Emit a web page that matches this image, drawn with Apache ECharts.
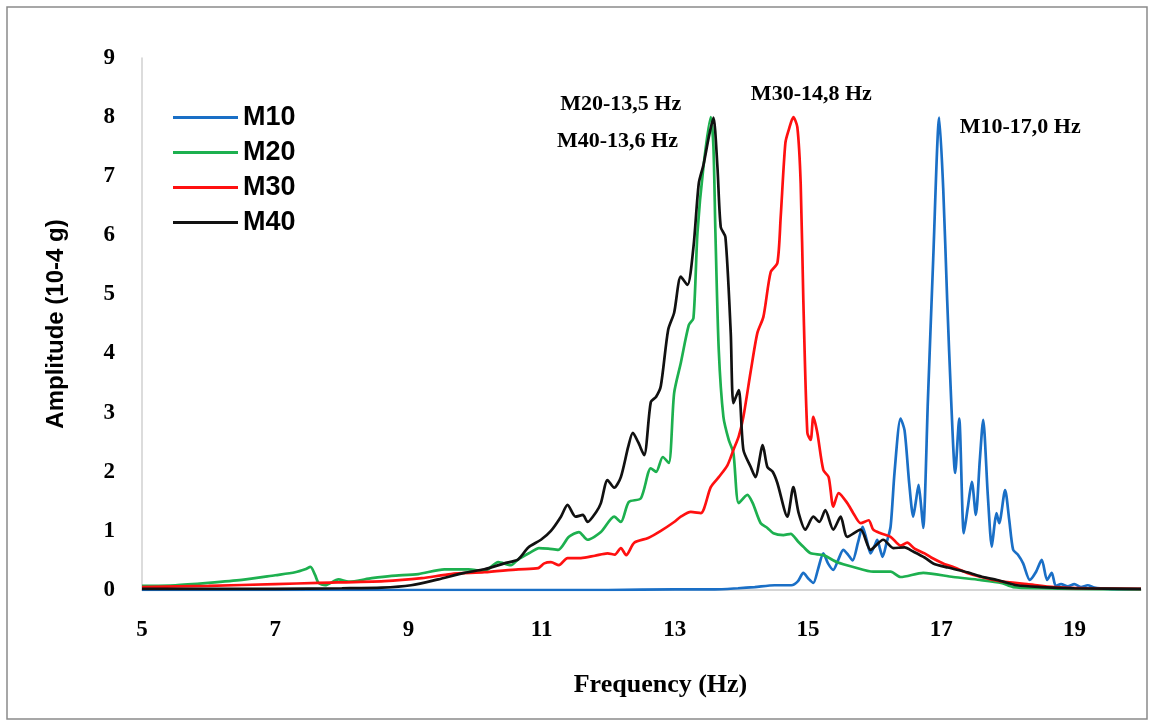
<!DOCTYPE html>
<html>
<head>
<meta charset="utf-8">
<script src="https://cdn.jsdelivr.net/npm/echarts@6/dist/echarts.min.js"></script>
<style>
html,body{margin:0;padding:0;background:#fff;}
#chart{width:1154px;height:723px;}
</style>
</head>
<body>
<div id="chart"></div>
<script>
// ---- data (frequency Hz, amplitude 10^-4 g) ----
const seriesNames = ['M10', 'M20', 'M30', 'M40'];

const m10 = [[5,0],[7,0],[9,0],[11,0],[12,0],[13,0.01],[13.6,0.01],[13.95,0.03],[14.2,0.05],[14.5,0.08],[14.75,0.08],[14.85,0.15],[14.93,0.29],[15.0,0.2],[15.08,0.12],[15.15,0.35],[15.23,0.62],[15.3,0.45],[15.38,0.34],[15.45,0.5],[15.53,0.68],[15.6,0.6],[15.67,0.5],[15.75,0.8],[15.82,1.07],[15.88,0.85],[15.94,0.62],[16.0,0.75],[16.04,0.85],[16.08,0.7],[16.12,0.56],[16.18,0.8],[16.24,1.07],[16.3,2.0],[16.39,2.9],[16.45,2.7],[16.52,1.8],[16.58,1.24],[16.62,1.5],[16.66,1.78],[16.7,1.4],[16.73,1.05],[16.8,3.2],[16.88,5.6],[16.97,7.99],[17.03,6.8],[17.09,4.9],[17.15,3.2],[17.21,1.98],[17.27,2.9],[17.34,0.96],[17.4,1.4],[17.46,1.83],[17.52,1.27],[17.58,2.2],[17.63,2.88],[17.7,1.6],[17.76,0.73],[17.8,1.1],[17.83,1.3],[17.87,1.13],[17.96,1.69],[18.02,1.2],[18.08,0.68],[18.15,0.6],[18.23,0.45],[18.33,0.17],[18.42,0.3],[18.51,0.51],[18.59,0.17],[18.66,0.29],[18.72,0.07],[18.8,0.1],[18.9,0.06],[19.0,0.1],[19.1,0.05],[19.2,0.08],[19.3,0.04],[19.5,0.02],[20,0.01]];

const m20 = [[5,0.07],[5.5,0.08],[6,0.12],[6.5,0.17],[7,0.25],[7.3,0.3],[7.45,0.35],[7.53,0.39],[7.6,0.25],[7.65,0.12],[7.75,0.08],[7.95,0.18],[8.1,0.14],[8.45,0.2],[8.75,0.24],[9.15,0.27],[9.54,0.35],[9.9,0.35],[10.14,0.32],[10.35,0.47],[10.54,0.42],[10.65,0.52],[10.84,0.64],[10.96,0.71],[11.1,0.7],[11.25,0.68],[11.41,0.9],[11.56,0.98],[11.69,0.85],[11.89,0.98],[12.09,1.24],[12.19,1.15],[12.31,1.49],[12.49,1.55],[12.64,2.06],[12.72,2.0],[12.82,2.25],[12.91,2.15],[12.99,3.33],[13.09,3.84],[13.21,4.48],[13.28,4.6],[13.34,6.04],[13.43,7.16],[13.54,8.0],[13.58,7.5],[13.61,6.04],[13.66,4.06],[13.73,2.93],[13.81,2.54],[13.88,2.32],[13.96,1.47],[14.09,1.61],[14.17,1.47],[14.29,1.13],[14.39,1.05],[14.48,0.96],[14.63,0.93],[14.74,0.95],[14.85,0.82],[14.93,0.73],[15.04,0.62],[15.23,0.59],[15.44,0.47],[15.68,0.39],[15.98,0.31],[16.24,0.31],[16.39,0.22],[16.73,0.29],[17.18,0.22],[17.58,0.17],[17.9,0.12],[18.08,0.05],[18.5,0.03],[19,0.02],[20,0.01]];

const m30 = [[5,0.05],[6,0.07],[7,0.1],[7.65,0.12],[8.64,0.15],[9.2,0.2],[9.64,0.27],[10.14,0.3],[10.65,0.35],[10.95,0.37],[11.04,0.45],[11.14,0.47],[11.26,0.42],[11.39,0.54],[11.59,0.54],[11.8,0.58],[11.99,0.62],[12.1,0.6],[12.19,0.71],[12.27,0.59],[12.39,0.8],[12.6,0.88],[12.79,1.0],[12.99,1.15],[13.09,1.24],[13.24,1.32],[13.39,1.3],[13.54,1.74],[13.66,1.91],[13.79,2.11],[13.88,2.37],[13.96,2.6],[14.03,2.93],[14.14,3.7],[14.24,4.35],[14.33,4.62],[14.44,5.38],[14.54,5.53],[14.59,6.31],[14.66,7.56],[14.71,7.78],[14.78,8.0],[14.84,7.83],[14.89,6.88],[14.93,4.9],[14.99,2.66],[15.04,2.54],[15.08,2.93],[15.14,2.66],[15.23,2.03],[15.31,1.91],[15.38,1.41],[15.46,1.64],[15.59,1.47],[15.68,1.3],[15.79,1.13],[15.91,1.18],[15.98,1.02],[16.09,0.96],[16.24,0.9],[16.39,0.75],[16.49,0.8],[16.6,0.7],[16.75,0.62],[16.85,0.55],[17.03,0.45],[17.2,0.38],[17.39,0.29],[17.6,0.22],[17.88,0.15],[18.29,0.1],[18.7,0.05],[19.2,0.03],[20,0.02]];

const m40 = [[5,0.02],[6,0.02],[7,0.02],[8,0.03],[8.6,0.04],[9.04,0.08],[9.45,0.18],[9.84,0.29],[10.14,0.35],[10.44,0.45],[10.65,0.52],[10.8,0.72],[10.99,0.85],[11.14,1.0],[11.29,1.24],[11.39,1.44],[11.51,1.24],[11.62,1.27],[11.69,1.15],[11.82,1.32],[11.89,1.47],[11.99,1.86],[12.09,1.73],[12.19,1.91],[12.3,2.42],[12.37,2.66],[12.45,2.5],[12.54,2.28],[12.64,3.18],[12.72,3.27],[12.79,3.45],[12.9,4.4],[12.99,4.69],[13.09,5.3],[13.19,5.16],[13.28,5.8],[13.36,6.88],[13.43,7.19],[13.51,7.66],[13.58,7.99],[13.64,7.16],[13.69,6.14],[13.76,5.97],[13.84,4.35],[13.88,3.16],[13.96,3.38],[14.03,2.37],[14.14,2.08],[14.21,1.91],[14.32,2.45],[14.39,2.08],[14.47,2.0],[14.54,1.81],[14.69,1.24],[14.78,1.74],[14.86,1.3],[14.96,1.02],[15.08,1.24],[15.17,1.15],[15.26,1.35],[15.38,1.02],[15.49,1.24],[15.59,0.9],[15.79,1.02],[15.94,0.68],[16.13,0.85],[16.28,0.71],[16.45,0.72],[16.58,0.65],[16.75,0.55],[16.88,0.45],[17.1,0.38],[17.39,0.3],[17.63,0.22],[17.84,0.17],[18.14,0.08],[18.5,0.05],[19,0.03],[20,0.02]];

// peak annotations: text, peak frequency, peak amplitude
const peakLabels = ['M10-17,0 Hz', 'M20-13,5 Hz', 'M30-14,8 Hz', 'M40-13,6 Hz'];
const peakFreq   = [16.97, 13.54, 14.78, 13.58];
const peakAmp    = [8, 8, 8, 8];

const xTickLabels = ['5', '7', '9', '11', '13', '15', '17', '19'];
const yTickLabels = ['0','1','2','3','4','5','6','7','8','9'];

// ---- chart ----
const colors = ['#1a6fc6', '#1db04f', '#ff1010', '#111111'];
const labelOffsets = [[81, 10], [-90, -13], [18, -23], [-96, 24]];
const serif = '"Liberation Serif", "Times New Roman", serif';
const sans = '"Liberation Sans", Arial, sans-serif';

const allData = [m10, m20, m30, m40];
const chart = echarts.init(document.getElementById('chart'), null, {renderer: 'canvas'});

const series = allData.map((d, i) => ({
  name: seriesNames[i],
  type: 'line',
  data: d,
  symbol: 'none',
  smooth: 0.25,
  lineStyle: {width: 2.7, color: colors[i]},
  itemStyle: {color: colors[i]},
  z: 2 + i,
  markPoint: {
    symbol: 'circle',
    symbolSize: 0,
    silent: true,
    data: [{
      coord: [peakFreq[i], peakAmp[i]],
      label: {
        show: true,
        formatter: peakLabels[i],
        offset: labelOffsets[i],
        color: '#000',
        fontFamily: serif,
        fontWeight: 'bold',
        fontSize: 22
      }
    }]
  }
}));

chart.setOption({
  animation: false,
  backgroundColor: '#fff',
  graphic: [{
    type: 'rect',
    shape: {x: 7, y: 7, width: 1140, height: 712},
    style: {fill: 'none', stroke: '#8a8a8a', lineWidth: 1.5},
    silent: true
  }],
  grid: {left: 142, right: 13, top: 58, bottom: 133, containLabel: false},
  legend: {
    orient: 'vertical',
    left: 173,
    top: 104,
    icon: 'rect',
    itemWidth: 65,
    itemHeight: 3,
    itemGap: 8,
    padding: 0,
    data: seriesNames,
    textStyle: {fontFamily: sans, fontWeight: 'bold', fontSize: 27, color: '#000', lineHeight: 27, padding: [0, 0, 0, 0]}
  },
  xAxis: {
    type: 'value',
    min: 5, max: 20, interval: 1,
    name: 'Frequency (Hz)',
    nameLocation: 'middle',
    nameGap: 82,
    nameTextStyle: {fontFamily: serif, fontWeight: 'bold', fontSize: 26, color: '#000', padding: [0, 0, 0, 38]},
    axisLine: {show: true, lineStyle: {color: '#c8c8c8', width: 1.5}},
    axisTick: {show: false},
    splitLine: {show: false},
    axisLabel: {
      margin: 29,
      fontFamily: serif, fontWeight: 'bold', fontSize: 23, color: '#000',
      formatter: v => (xTickLabels.indexOf(String(v)) >= 0 ? String(v) : '')
    }
  },
  yAxis: {
    type: 'value',
    min: 0, max: 9, interval: 1,
    name: 'Amplitude (10-4 g)',
    nameLocation: 'middle',
    nameGap: 74,
    nameTextStyle: {fontFamily: sans, fontWeight: 'bold', fontSize: 24, color: '#000'},
    axisLine: {show: true, lineStyle: {color: '#d0d0d0', width: 1.5}},
    axisTick: {show: false},
    splitLine: {show: false},
    axisLabel: {
      margin: 27,
      fontFamily: serif, fontWeight: 'bold', fontSize: 23, color: '#000',
      formatter: v => yTickLabels[v] !== undefined ? yTickLabels[v] : ''
    }
  },
  series: series
});
</script>
</body>
</html>
